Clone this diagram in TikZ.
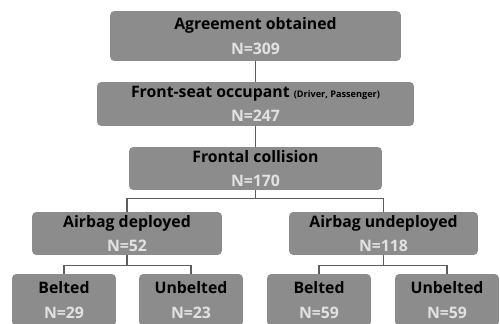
\documentclass[tikz,border=0pt]{standalone}
\usepackage{fontspec}
\setmainfont{Open Sans}
\definecolor{boxgray}{HTML}{8C8C8C}
\definecolor{numgray}{HTML}{E2E2E2}
\definecolor{linegray}{HTML}{5E5E5E}
\newcommand{\nval}[1]{{\color{numgray}#1}}
\newcommand{\smalltxt}[1]{{\fontsize{5.2}{6}\selectfont#1}}

\begin{document}
\begin{tikzpicture}[x=0.02cm,y=-0.02cm,
	box/.style={fill=boxgray,rounded corners=2.5pt,align=center,inner sep=0pt,
		font=\fontsize{9}{10.5}\selectfont\bfseries},
	link/.style={draw=linegray,line width=0.7pt}]
			%%%%% START %%%%%
			\clip (0,0) rectangle (500,324);
			
			\node[box,minimum width=5.82cm,minimum height=1.0cm] (agree) at (255.5,36) {Agreement obtained\\[3.3pt]\nval{N=309}};
			\node[box,minimum width=6.34cm,minimum height=0.88cm] (front) at (255.5,104) {Front-seat occupant \smalltxt{(Driver, Passenger)}\\[3.3pt]\nval{N=247}};
			\node[box,minimum width=5.06cm,minimum height=0.86cm] (coll) at (255.5,168.5) {Frontal collision\\[2.8pt]\nval{N=170}};
			
			\node[box,minimum width=3.8cm,minimum height=0.86cm] (dep) at (127,233.5) {Airbag deployed\\[2.8pt]\nval{N=52}};
			\node[box,minimum width=3.78cm,minimum height=0.86cm] (undep) at (383.5,233.5) {Airbag undeployed\\[2.8pt]\nval{N=118}};
			
			\node[box,minimum width=2.08cm,minimum height=1.04cm] (depb) at (64,300) {Belted\\[4.2pt]\nval{N=29}};
			\node[box,minimum width=2.08cm,minimum height=1.04cm] (depu) at (191,300) {Unbelted\\[4.2pt]\nval{N=23}};
			\node[box,minimum width=2.08cm,minimum height=1.04cm] (undepb) at (319,300) {Belted\\[4.2pt]\nval{N=59}};
			\node[box,minimum width=2.08cm,minimum height=1.04cm] (undepu) at (447,300) {Unbelted\\[4.2pt]\nval{N=59}};
			
			\draw[link] (agree.south) -- (front.north);
			\draw[link] (front.south) -- (coll.north);
			\draw[link] (coll.south) -- ++(0,8) -| (dep.north);
			\draw[link] (coll.south) -- ++(0,8) -| (undep.north);
			\draw[link] (dep.south) -- ++(0,10) -| (depb.north);
			\draw[link] (dep.south) -- ++(0,10) -| (depu.north);
			\draw[link] (undep.south) -- ++(0,10) -| (undepb.north);
			\draw[link] (undep.south) -- ++(0,10) -| (undepu.north);
			%%%%% END %%%%%
\end{tikzpicture}
\end{document}
